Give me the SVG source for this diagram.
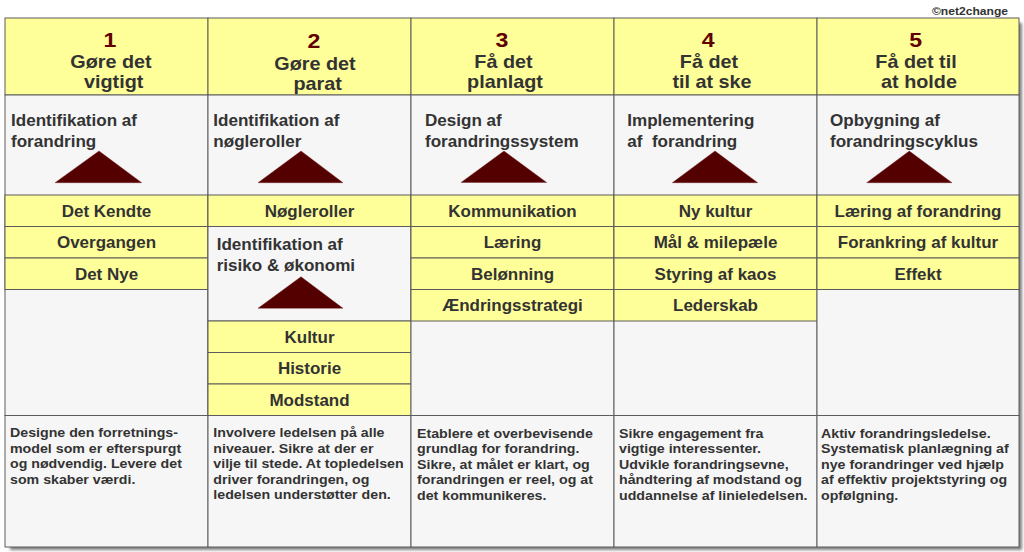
<svg xmlns="http://www.w3.org/2000/svg" width="1024" height="552" viewBox="0 0 1024 552">
<defs>
<filter id="sh" x="-5%" y="-5%" width="110%" height="110%"><feGaussianBlur stdDeviation="1.5"/></filter>
</defs>
<style>
.hdr{fill:#ffff99;stroke:#5c5c5c;stroke-width:1}
.gray{fill:#f6f6f6;stroke:#5c5c5c;stroke-width:1}
.row{fill:#ffff99;stroke:#5c5c5c;stroke-width:1}
.tri{fill:#550000;stroke:#7a2020;stroke-width:0.4}
text{font-family:"Liberation Sans",Arial,sans-serif;font-weight:bold;fill:#333333}
.num{font-size:21px;fill:#620000;text-anchor:middle}
.h{font-size:18px;text-anchor:middle}
.sub{font-size:15.8px}
.lbl{font-size:15.6px;text-anchor:middle}
.desc{font-size:13.4px}
.copy{font-size:11px;text-anchor:end}
</style>
<rect width="1024" height="552" fill="#ffffff"/>
<rect x="10" y="23" width="1012" height="527" fill="#808080" filter="url(#sh)"/>
<rect x="5" y="18" width="1014" height="529" fill="#f6f6f6"/>
<text class="copy" transform="translate(1008,15) scale(1.1,1)">©net2change</text>

<g id="col1">
<rect class="hdr" x="5" y="18" width="203" height="77"/>
<rect class="gray" x="5" y="95" width="203" height="320.5"/>
<text class="num" transform="translate(110,46.7) scale(1.1,1)">1</text>
<text class="h" transform="translate(111,68.3) scale(1.1,1)">Gøre det</text>
<text class="h" transform="translate(113.7,88) scale(1.1,1)">vigtigt</text>
<text class="sub" transform="translate(11,125.7) scale(1.08,1)"><tspan x="0">Identifikation af</tspan><tspan x="0" dy="21">forandring</tspan></text>
<polygon class="tri" points="99,151 141.7,182.7 55,182.7"/>
<rect class="row" x="5" y="195" width="203" height="31.5"/>
<rect class="row" x="5" y="226.5" width="203" height="31.5"/>
<rect class="row" x="5" y="258" width="203" height="31.5"/>
<text class="lbl" transform="translate(106.5,216.6) scale(1.09,1)">Det Kendte</text>
<text class="lbl" transform="translate(106.5,248.1) scale(1.09,1)">Overgangen</text>
<text class="lbl" transform="translate(106.5,279.6) scale(1.09,1)">Det Nye</text>
<rect class="gray" x="5" y="415.5" width="203" height="131.5"/>
<text class="desc" transform="translate(10,437) scale(1.06,1)"><tspan x="0">Designe den forretnings-</tspan><tspan x="0" dy="15.6">model som er efterspurgt</tspan><tspan x="0" dy="15.6">og nødvendig. Levere det</tspan><tspan x="0" dy="15.6">som skaber værdi.</tspan></text>
</g>

<g id="col2">
<rect class="hdr" x="208" y="18" width="203" height="77"/>
<rect class="gray" x="208" y="95" width="203" height="320.5"/>
<text class="num" transform="translate(314,47.7) scale(1.1,1)">2</text>
<text class="h" transform="translate(315,70) scale(1.1,1)">Gøre det</text>
<text class="h" transform="translate(317.7,89.5) scale(1.1,1)">parat</text>
<text class="sub" transform="translate(213.3,125.7) scale(1.08,1)"><tspan x="0">Identifikation af</tspan><tspan x="0" dy="21">nøgleroller</tspan></text>
<polygon class="tri" points="301,151 343,182.7 258,182.7"/>
<rect class="row" x="208" y="195" width="203" height="31.5"/>
<text class="lbl" transform="translate(309.5,216.6) scale(1.09,1)">Nøgleroller</text>
<rect class="gray" x="208" y="226.5" width="203" height="94.5"/>
<text class="sub" transform="translate(216.7,250) scale(1.08,1)"><tspan x="0">Identifikation af</tspan><tspan x="0" dy="21">risiko &amp; økonomi</tspan></text>
<polygon class="tri" points="301,276.7 343,308.3 258,308.3"/>
<rect class="row" x="208" y="321" width="203" height="31.5"/>
<rect class="row" x="208" y="352.5" width="203" height="31.5"/>
<rect class="row" x="208" y="384" width="203" height="31.5"/>
<text class="lbl" transform="translate(309.5,342.6) scale(1.09,1)">Kultur</text>
<text class="lbl" transform="translate(309.5,374.1) scale(1.09,1)">Historie</text>
<text class="lbl" transform="translate(309.5,405.6) scale(1.09,1)">Modstand</text>
<rect class="gray" x="208" y="415.5" width="203" height="131.5"/>
<text class="desc" transform="translate(213.3,437) scale(1.06,1)"><tspan x="0">Involvere ledelsen på alle</tspan><tspan x="0" dy="15.6">niveauer. Sikre at der er</tspan><tspan x="0" dy="15.6">vilje til stede. At topledelsen</tspan><tspan x="0" dy="15.6">driver forandringen, og</tspan><tspan x="0" dy="15.6">ledelsen understøtter den.</tspan></text>
</g>

<g id="col3">
<rect class="hdr" x="411" y="18" width="203" height="77"/>
<rect class="gray" x="411" y="95" width="203" height="320.5"/>
<text class="num" transform="translate(502,46.5) scale(1.1,1)">3</text>
<text class="h" transform="translate(503.5,68.3) scale(1.1,1)">Få det</text>
<text class="h" transform="translate(505,88.3) scale(1.1,1)">planlagt</text>
<text class="sub" transform="translate(425,126) scale(1.08,1)"><tspan x="0">Design af</tspan><tspan x="0" dy="21">forandringssystem</tspan></text>
<polygon class="tri" points="504,151 546.7,182.5 461,182.5"/>
<rect class="row" x="411" y="195" width="203" height="31.5"/>
<rect class="row" x="411" y="226.5" width="203" height="31.5"/>
<rect class="row" x="411" y="258" width="203" height="31.5"/>
<rect class="row" x="411" y="289.5" width="203" height="31.5"/>
<text class="lbl" transform="translate(512.5,216.6) scale(1.09,1)">Kommunikation</text>
<text class="lbl" transform="translate(512.5,248.1) scale(1.09,1)">Læring</text>
<text class="lbl" transform="translate(512.5,279.6) scale(1.09,1)">Belønning</text>
<text class="lbl" transform="translate(512.5,311.1) scale(1.09,1)">Ændringsstrategi</text>
<rect class="gray" x="411" y="415.5" width="203" height="131.5"/>
<text class="desc" transform="translate(417,437.5) scale(1.06,1)"><tspan x="0">Etablere et overbevisende</tspan><tspan x="0" dy="15.6">grundlag for forandring.</tspan><tspan x="0" dy="15.6">Sikre, at målet er klart, og</tspan><tspan x="0" dy="15.6">forandringen er reel, og at</tspan><tspan x="0" dy="15.6">det kommunikeres.</tspan></text>
</g>

<g id="col4">
<rect class="hdr" x="614" y="18" width="203" height="77"/>
<rect class="gray" x="614" y="95" width="203" height="320.5"/>
<text class="num" transform="translate(708.3,46.5) scale(1.1,1)">4</text>
<text class="h" transform="translate(709,68.3) scale(1.1,1)">Få det</text>
<text class="h" transform="translate(712,88.3) scale(1.1,1)">til at ske</text>
<text class="sub" xml:space="preserve" transform="translate(627.3,125.7) scale(1.08,1)"><tspan x="0">Implementering</tspan><tspan x="0" dy="21">af  forandring</tspan></text>
<polygon class="tri" points="715,151 757.7,182.7 672.3,182.7"/>
<rect class="row" x="614" y="195" width="203" height="31.5"/>
<rect class="row" x="614" y="226.5" width="203" height="31.5"/>
<rect class="row" x="614" y="258" width="203" height="31.5"/>
<rect class="row" x="614" y="289.5" width="203" height="31.5"/>
<text class="lbl" transform="translate(715.5,216.6) scale(1.09,1)">Ny kultur</text>
<text class="lbl" transform="translate(715.5,248.1) scale(1.09,1)">Mål &amp; milepæle</text>
<text class="lbl" transform="translate(715.5,279.6) scale(1.09,1)">Styring af kaos</text>
<text class="lbl" transform="translate(715.5,311.1) scale(1.09,1)">Lederskab</text>
<rect class="gray" x="614" y="415.5" width="203" height="131.5"/>
<text class="desc" transform="translate(619,437.5) scale(1.06,1)"><tspan x="0">Sikre engagement fra</tspan><tspan x="0" dy="15.6">vigtige interessenter.</tspan><tspan x="0" dy="15.6">Udvikle forandringsevne,</tspan><tspan x="0" dy="15.6">håndtering af modstand og</tspan><tspan x="0" dy="15.6">uddannelse af linieledelsen.</tspan></text>
</g>

<g id="col5">
<rect class="hdr" x="817" y="18" width="202" height="77"/>
<rect class="gray" x="817" y="95" width="202" height="320.5"/>
<text class="num" transform="translate(915.7,46.5) scale(1.1,1)">5</text>
<text class="h" transform="translate(916,68.3) scale(1.1,1)">Få det til</text>
<text class="h" transform="translate(919,88.3) scale(1.1,1)">at holde</text>
<text class="sub" transform="translate(830,125.7) scale(1.08,1)"><tspan x="0">Opbygning af</tspan><tspan x="0" dy="21">forandringscyklus</tspan></text>
<polygon class="tri" points="909.3,151 952,182.7 866.7,182.7"/>
<rect class="row" x="817" y="195" width="202" height="31.5"/>
<rect class="row" x="817" y="226.5" width="202" height="31.5"/>
<rect class="row" x="817" y="258" width="202" height="31.5"/>
<text class="lbl" transform="translate(918,216.6) scale(1.09,1)">Læring af forandring</text>
<text class="lbl" transform="translate(918,248.1) scale(1.09,1)">Forankring af kultur</text>
<text class="lbl" transform="translate(918,279.6) scale(1.09,1)">Effekt</text>
<rect class="gray" x="817" y="415.5" width="202" height="131.5"/>
<text class="desc" transform="translate(821,437.5) scale(1.06,1)"><tspan x="0">Aktiv forandringsledelse.</tspan><tspan x="0" dy="15.6">Systematisk planlægning af</tspan><tspan x="0" dy="15.6">nye forandringer ved hjælp</tspan><tspan x="0" dy="15.6">af effektiv projektstyring og</tspan><tspan x="0" dy="15.6">opfølgning.</tspan></text>
</g>
</svg>
